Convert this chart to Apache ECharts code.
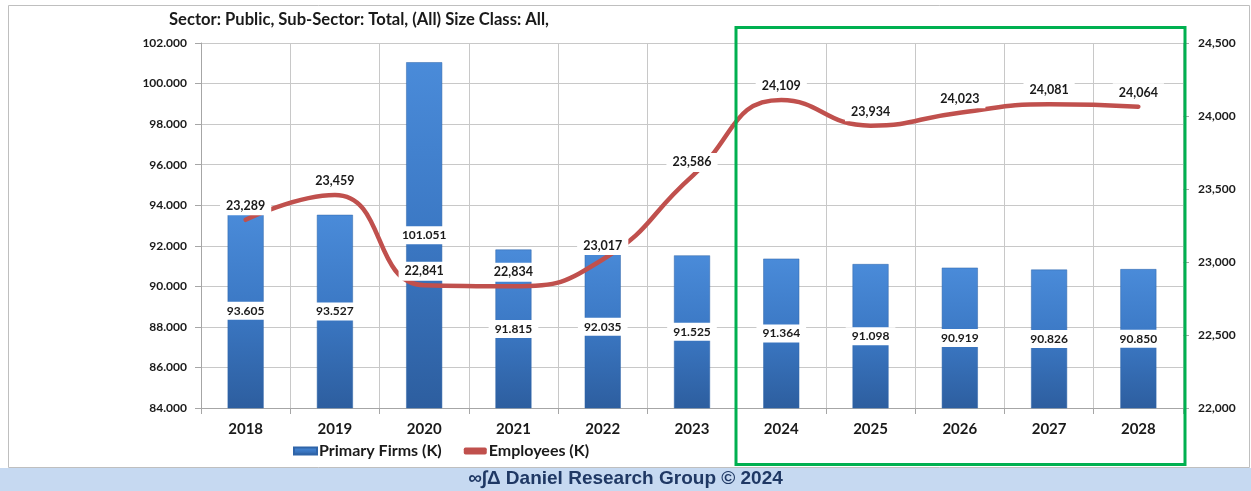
<!DOCTYPE html>
<html>
<head>
<meta charset="utf-8">
<script src="https://cdn.jsdelivr.net/npm/echarts@6/dist/echarts.min.js"></script>
<style>html,body{margin:0;padding:0;background:#fff}#c{width:1251px;height:491px}</style>
</head>
<body>
<div id="c"></div>
<script>
const titleText = 'Sector: Public, Sub-Sector: Total, (All) Size Class: All,';
const years = ['2018','2019','2020','2021','2022','2023','2024','2025','2026','2027','2028'];
const primaryFirms = [93.605, 93.527, 101.051, 91.815, 92.035, 91.525, 91.364, 91.098, 90.919, 90.826, 90.850];
const employees = [23289, 23459, 22841, 22834, 23017, 23586, 24109, 23934, 24023, 24081, 24064];
const footerText = '∞∫Δ Daniel Research Group © 2024';

const chart = echarts.init(document.getElementById('c'));
const lblFont = 'Lato';
chart.setOption({
  animation: false,
  textStyle: {fontFamily: lblFont},
  title: {text: titleText, left: 164, top: 6, textStyle: {fontSize: 16.6, fontWeight: 'bold', color: '#1a1a1a', fontFamily: lblFont}},
  legend: {
    left: 288, top: 438, itemWidth: 23, itemHeight: 7, itemGap: 22,
    textStyle: {fontSize: 16, fontWeight: 'bold', color: '#1a1a1a', fontFamily: lblFont, padding: [0, 0, 0, -3]},
    data: [{name: 'Primary Firms (K)', icon: 'rect'}, {name: 'Employees (K)', icon: 'roundRect'}]
  },
  grid: {left: 201, right: 68, top: 43, bottom: 83, containLabel: false},
  xAxis: {
    type: 'category', data: years, boundaryGap: true,
    axisLine: {lineStyle: {color: '#a6a6a6'}},
    axisTick: {show: true, length: 6, lineStyle: {color: '#a6a6a6'}},
    axisLabel: {margin: 14, fontSize: 15, fontWeight: 'bold', color: '#1a1a1a', fontFamily: lblFont},
    splitLine: {show: true, lineStyle: {color: '#c8c8c8'}}
  },
  yAxis: [{
    type: 'value', min: 84, max: 102, interval: 2,
    axisLine: {show: true, lineStyle: {color: '#a6a6a6'}},
    axisTick: {show: true, length: 6, lineStyle: {color: '#a6a6a6'}},
    axisLabel: {margin: 14, fontSize: 12, fontWeight: 'bold', color: '#1a1a1a', fontFamily: lblFont,
      formatter: v => v.toFixed(3)},
    splitLine: {show: true, lineStyle: {color: '#c8c8c8'}}
  }, {
    type: 'value', min: 22000, max: 24500, interval: 500, position: 'right',
    axisLine: {show: false},
    axisTick: {show: true, length: 6, lineStyle: {color: '#a6a6a6'}},
    axisLabel: {margin: 15, fontSize: 12, fontWeight: 'bold', color: '#1a1a1a', fontFamily: lblFont,
      formatter: v => v.toLocaleString('en-US')},
    splitLine: {show: false}
  }],
  series: [{
    name: 'Primary Firms (K)', type: 'bar', yAxisIndex: 0, data: primaryFirms, barWidth: 36,
    itemStyle: {
      color: new echarts.graphic.LinearGradient(0, 0, 0, 1, [
        {offset: 0, color: '#4a8bd9'}, {offset: 0.5, color: '#3b78c4'}, {offset: 1, color: '#2d5e9f'}
      ]),
      borderColor: '#2f64a8', borderWidth: 0.5
    },
    label: {show: true, position: 'inside', formatter: p => p.value.toFixed(3),
      backgroundColor: '#fff', padding: [3, 6], fontSize: 12, fontWeight: 'bold', color: '#1a1a1a', fontFamily: lblFont},
    z: 2
  }, {
    name: 'Employees (K)', type: 'line', yAxisIndex: 1, data: employees, smooth: 0.5,
    symbol: 'circle', symbolSize: 1, showSymbol: true,
    lineStyle: {color: '#c0504d', width: 4.5, cap: 'round'}, itemStyle: {color: '#c0504d'},
    label: {show: true, position: 'top', distance: 4, formatter: p => p.value.toLocaleString('en-US'),
      backgroundColor: '#fff', padding: [3, 6], fontSize: 12.5, fontWeight: 'bold', color: '#1a1a1a', fontFamily: lblFont},
    z: 3
  }],
  graphic: [
    {type: 'rect', z: -1, shape: {x: 8.5, y: 5.5, width: 1241, height: 462}, style: {fill: 'none', stroke: '#bfbfbf', lineWidth: 1}},
    {type: 'rect', z: 10, shape: {x: 736, y: 27.5, width: 449, height: 437}, style: {fill: 'none', stroke: '#00b050', lineWidth: 3}},
    {type: 'rect', z: 1, shape: {x: 0, y: 468, width: 1251, height: 23}, style: {fill: '#c6d9f1'}},
    {type: 'text', z: 2, left: 'center', top: 469, style: {text: footerText, fill: '#1f3864', font: 'bold 19px "Liberation Sans", Arial, sans-serif'}}
  ]
});
</script>
</body>
</html>
